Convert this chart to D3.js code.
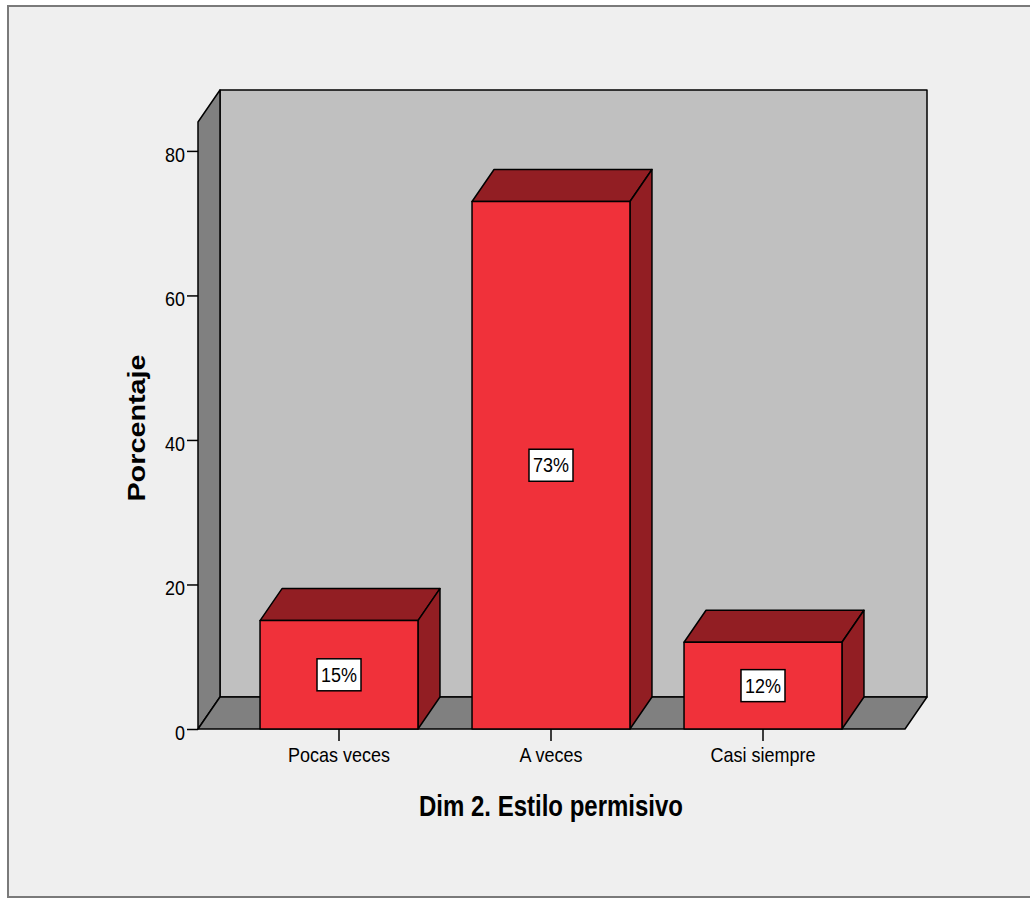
<!DOCTYPE html>
<html>
<head>
<meta charset="utf-8">
<script src="https://cdn.jsdelivr.net/npm/d3@7"></script>
<style>
  html, body { margin: 0; padding: 0; background: #ffffff; }
  svg { display: block; font-family: Arial, "Liberation Sans", sans-serif; }
</style>
</head>
<body>
<svg id="chart" width="1030" height="899"></svg>
<script>
// Percentage of responses per category
const categories = ["Pocas veces", "A veces", "Casi siempre"];
const percentages = [15, 73, 12];
const yTicks = [0, 20, 40, 60, 80];
const yMax = 84;
const xTitle = "Dim 2. Estilo permisivo";
const yTitle = "Porcentaje";

const svg = d3.select("#chart");

// Panel frame
svg.append("rect")
  .attr("x", 8).attr("y", 6).attr("width", 1100).attr("height", 891)
  .attr("fill", "#efefef").attr("stroke", "#7a7a7a").attr("stroke-width", 2);

// Front plane of the 3D box
const x0 = 198, x1 = 905;      // front left / right of the floor
const depthX = 22, depthY = 32; // perspective offset of the back plane

const y = d3.scaleLinear().domain([0, yMax]).range([729, 122]);
const x = d3.scaleBand().domain(categories).range([233, 869])
  .paddingInner(0.255).paddingOuter(0.1275);

const edge = { stroke: "#000", "stroke-width": 1.5, "stroke-linejoin": "round" };
function poly(points, fill) {
  const p = svg.append("polygon")
    .attr("points", points.map(d => d.join(",")).join(" "))
    .attr("fill", fill);
  Object.entries(edge).forEach(([k, v]) => p.attr(k, v));
  return p;
}

const yBase = y(0), yTop = y(yMax);

// Back wall
poly([[x0 + depthX, yTop - depthY], [x1 + depthX, yTop - depthY],
      [x1 + depthX, yBase - depthY], [x0 + depthX, yBase - depthY]], "#c0c0c0");
// Left side wall
poly([[x0, yTop], [x0 + depthX, yTop - depthY],
      [x0 + depthX, yBase - depthY], [x0, yBase]], "#808080");
// Floor
poly([[x0, yBase], [x0 + depthX, yBase - depthY],
      [x1 + depthX, yBase - depthY], [x1, yBase]], "#808080");

// Y axis
const yAxis = svg.append("g")
  .attr("transform", `translate(${x0},0)`)
  .call(d3.axisLeft(y).tickValues(yTicks).tickSize(11).tickPadding(2));
yAxis.select(".domain").remove();
yAxis.selectAll("line").attr("stroke", "#000").attr("stroke-width", 1.5);
yAxis.selectAll("text")
  .attr("font-size", 18).attr("font-family", "Arial, 'Liberation Sans', sans-serif")
  .attr("fill", "#000").attr("dy", "0.5em")
  .attr("transform", "scale(1,1.15)");

// X axis
const xAxis = svg.append("g")
  .attr("transform", `translate(0,${yBase})`)
  .call(d3.axisBottom(x).tickSize(12));
xAxis.select(".domain").remove();
xAxis.selectAll("line").attr("stroke", "#000").attr("stroke-width", 1.5);
xAxis.selectAll("text")
  .attr("font-size", 18).attr("font-family", "Arial, 'Liberation Sans', sans-serif")
  .attr("fill", "#000").attr("y", 0).attr("dy", null)
  .attr("transform", "translate(0,33) scale(1,1.15)");

// Bars
const bw = x.bandwidth();
categories.forEach((c, i) => {
  const v = percentages[i];
  const bx = x(c), by = y(v);
  // top face
  poly([[bx, by], [bx + depthX, by - depthY], [bx + bw + depthX, by - depthY], [bx + bw, by]], "#921e23");
  // side face
  poly([[bx + bw, by], [bx + bw + depthX, by - depthY],
        [bx + bw + depthX, yBase - depthY], [bx + bw, yBase]], "#921e23");
  // front face
  poly([[bx, by], [bx + bw, by], [bx + bw, yBase], [bx, yBase]], "#f0313a");

  // value label
  const cx = bx + bw / 2, cy = (by + yBase) / 2;
  const g = svg.append("g").attr("transform", `translate(${cx},${cy})`);
  const box = g.append("rect").attr("fill", "#fff").attr("stroke", "#000").attr("stroke-width", 1.5);
  const t = g.append("text")
    .attr("text-anchor", "middle").attr("font-size", 18)
    .attr("transform", "translate(0,7) scale(1,1.15)")
    .attr("fill", "#000")
    .text(d3.format(".0f")(v) + "%");
  const w = t.node().getComputedTextLength() + 8;
  box.attr("x", -w / 2).attr("y", -16).attr("width", w).attr("height", 32);
});

// Axis titles
svg.append("text")
  .attr("transform", `translate(${(x.range()[0] + x.range()[1]) / 2},816) scale(1,1.2)`)
  .attr("text-anchor", "middle").attr("font-size", 24).attr("font-weight", "bold")
  .attr("fill", "#000").text(xTitle);

svg.append("text")
  .attr("transform", "translate(145,428) rotate(-90) scale(1.2,1)")
  .attr("text-anchor", "middle").attr("font-size", 24).attr("font-weight", "bold")
  .attr("fill", "#000").text(yTitle);
</script>
</body>
</html>
